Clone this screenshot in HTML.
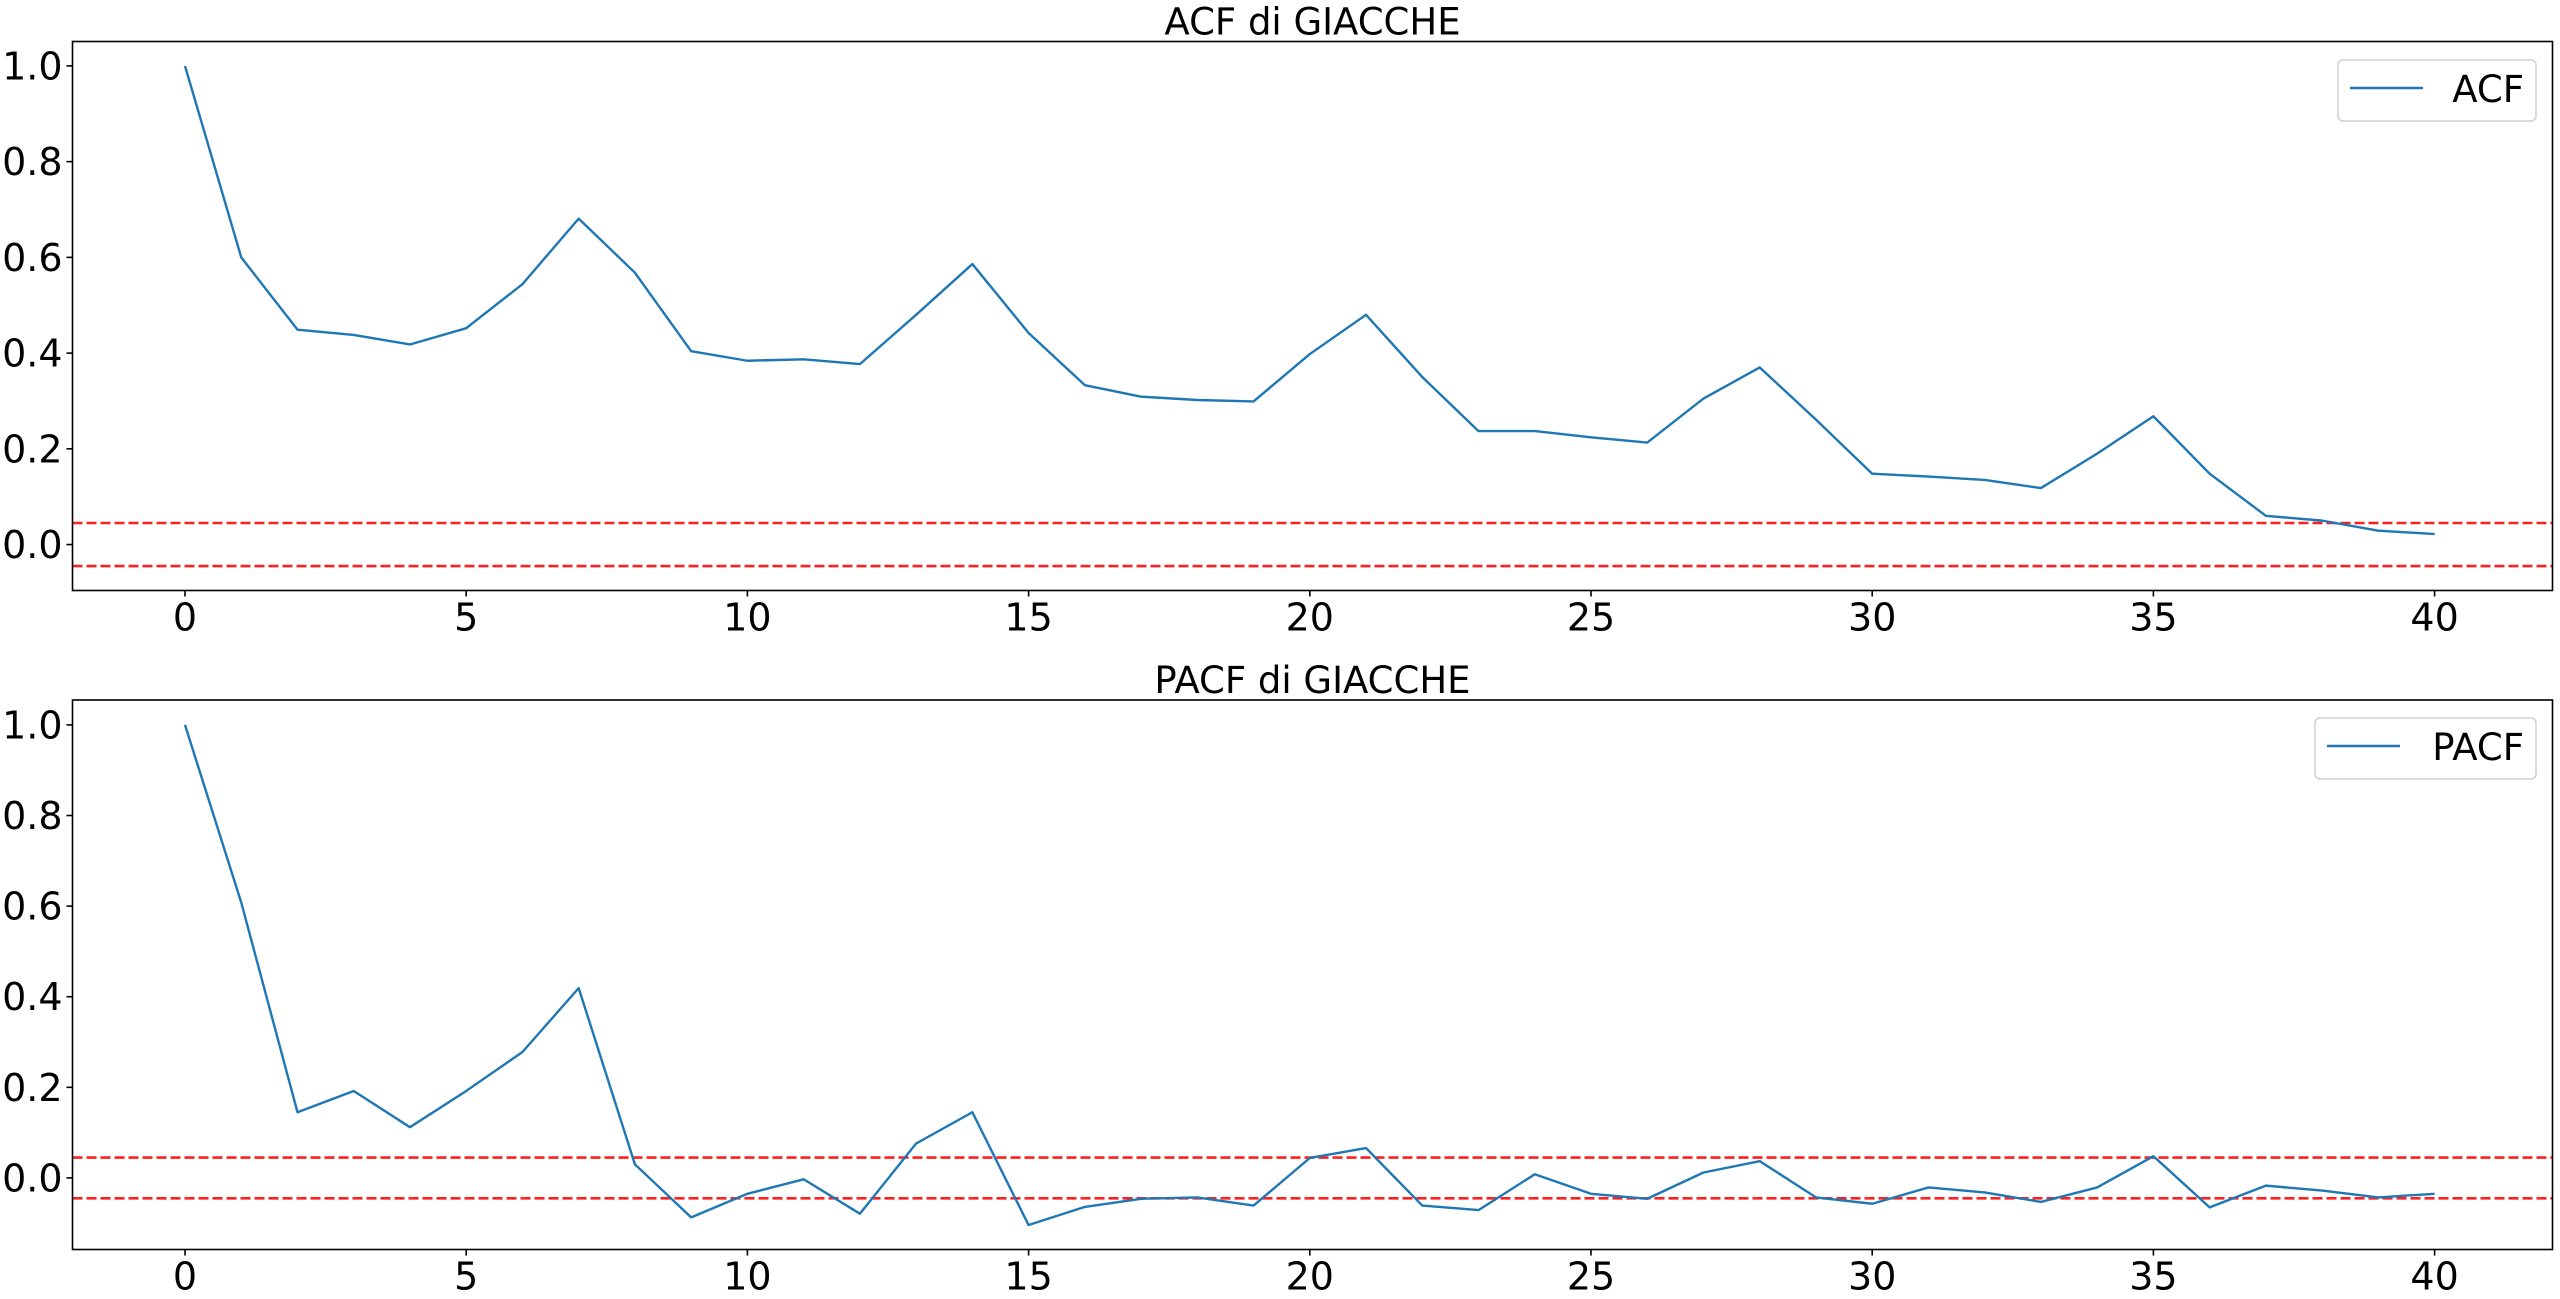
<!DOCTYPE html>
<html><head><meta charset="utf-8"><style>
html,body{margin:0;padding:0;background:#fff;}
svg{display:block;}
text{font-family:"DejaVu Sans","Liberation Sans",sans-serif;fill:#000;}
</style></head><body>
<svg id="chart" width="2560" height="1299" viewBox="0 0 2560 1299" xmlns="http://www.w3.org/2000/svg"></svg>
<script>
const lags = [0,1,2,3,4,5,6,7,8,9,10,11,12,13,14,15,16,17,18,19,20,21,22,23,24,25,26,27,28,29,30,31,32,33,34,35,36,37,38,39,40];
const acfValues = [1.0,0.60,0.449,0.438,0.418,0.452,0.544,0.681,0.568,0.404,0.384,0.387,0.377,0.48,0.586,0.442,0.333,0.309,0.302,0.299,0.398,0.48,0.35,0.237,0.237,0.224,0.213,0.305,0.37,0.261,0.148,0.142,0.135,0.118,0.19,0.268,0.148,0.06,0.05,0.029,0.022];
const pacfValues = [1.0,0.608,0.145,0.192,0.112,0.192,0.278,0.419,0.03,-0.087,-0.035,-0.003,-0.079,0.076,0.145,-0.104,-0.064,-0.046,-0.043,-0.061,0.044,0.066,-0.061,-0.071,0.008,-0.035,-0.046,0.012,0.037,-0.043,-0.057,-0.021,-0.032,-0.053,-0.021,0.048,-0.065,-0.017,-0.028,-0.043,-0.035];
const xTicks = [0,5,10,15,20,25,30,35,40];
const yTicks = [0.0,0.2,0.4,0.6,0.8,1.0];
const confBand = [0.045,-0.045];
const titles = ["ACF di GIACCHE","PACF di GIACCHE"];
const legends = ["ACF","PACF"];

const NS = "http://www.w3.org/2000/svg";
const svg = document.getElementById('chart');
function mk(tag, attrs, parent){
  const e = document.createElementNS(NS, tag);
  for (const k in attrs) e.setAttribute(k, attrs[k]);
  (parent||svg).appendChild(e);
  return e;
}
const panels = [
  {top:41.5, bottom:590.5, ymax:1.051, ymin:-0.096, values:acfValues, legBox:[2338,60,198,61], name:'acf'},
  {top:700, bottom:1249.5, ymax:1.055, ymin:-0.158, values:pacfValues, legBox:[2315,718,221,61], name:'pacf'}
];
const L = 72.5, R = 2552.5;
const xScale = v => 185 + v * 56.24;

panels.forEach((p, pi) => {
  const g = mk('g', {});
  
  
  const yScale = v => p.top + (p.ymax - v) / (p.ymax - p.ymin) * (p.bottom - p.top);

  // confidence lines
  confBand.forEach((c, ci) => {
    const ln = mk('line', {x1:L, x2:R, y1:yScale(c), y2:yScale(c), stroke:'#ff2020', 'stroke-width':2.6, 'stroke-dasharray':'10,4'}, g);
    
    
  });

  // series
  const pts = lags.map((l, i) => xScale(l).toFixed(2) + ',' + yScale(p.values[i]).toFixed(2)).join(' ');
  const pl = mk('polyline', {points:pts, fill:'none', stroke:'#1f77b4', 'stroke-width':2.4, 'stroke-linejoin':'round'}, g);
  
  

  // axes frame
  const fr = mk('rect', {x:L, y:p.top, width:R-L, height:p.bottom-p.top, fill:'none', stroke:'#000', 'stroke-width':1.6}, g);
  
  

  // x ticks
  xTicks.forEach(t => {
    const x = xScale(t);
    mk('line', {x1:x, x2:x, y1:p.bottom, y2:p.bottom+6, stroke:'#000', 'stroke-width':1.6}, g);
    const tx = mk('text', {x:x, y:p.bottom+37+3, 'text-anchor':'middle', 'font-size':38}, g);
    tx.textContent = String(t);
    
    
  });
  // y ticks
  yTicks.forEach(t => {
    const y = yScale(t);
    mk('line', {x1:L-6, x2:L, y1:y, y2:y, stroke:'#000', 'stroke-width':1.6}, g);
    const tx = mk('text', {x:L-10, y:y+13.5, 'text-anchor':'end', 'font-size':38}, g);
    tx.textContent = t.toFixed(1);
    
    
  });

  // title
  const tt = mk('text', {x:(L+R)/2, y:p.top-7, 'text-anchor':'middle', 'font-size':37}, g);
  tt.textContent = titles[pi];
  
  

  // legend
  const [bx, by, bw, bh] = p.legBox;
  const lg = mk('g', {}, g);
  
  
  mk('rect', {x:bx, y:by, width:bw, height:bh, rx:5, fill:'#fff', 'fill-opacity':0.8, stroke:'#d0d0d0', 'stroke-width':1.5}, lg);
  mk('line', {x1:bx+12, x2:bx+85, y1:by+28, y2:by+28, stroke:'#1f77b4', 'stroke-width':2.4}, lg);
  const lt = mk('text', {x:bx+bw-12, y:by+42, 'text-anchor':'end', 'font-size':37}, lg);
  lt.textContent = legends[pi];
  
  
});
</script>
</body></html>
